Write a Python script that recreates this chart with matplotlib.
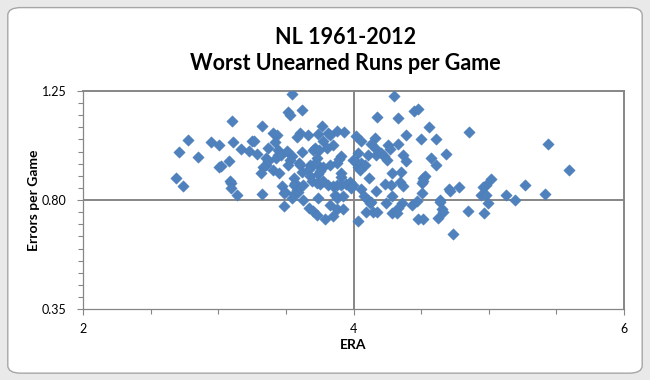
import matplotlib
matplotlib.use("Agg")
import matplotlib.pyplot as plt
from matplotlib.patches import FancyBboxPatch
from matplotlib.ticker import MultipleLocator

# ERA and errors per game
era = [2.778, 2.948, 3.003, 3.111, 3.170, 2.712, 2.852, 3.081, 3.020, 3.005,
       2.687, 2.741, 3.086, 3.096, 3.094, 3.140, 3.099,
       3.547, 3.513, 3.528, 3.619, 3.325, 3.407, 3.432, 3.604, 3.579, 3.247,
       3.264, 3.227, 3.284, 3.421, 3.370, 3.439, 3.444, 3.424, 3.463, 3.510,
       3.350, 3.365, 3.350, 3.333, 3.542, 3.530, 3.515, 3.616, 3.596, 3.604,
       3.407, 3.451, 3.316, 3.616, 3.562, 3.567, 3.559, 3.473, 3.493, 3.488,
       3.579, 3.591, 3.562, 3.628, 3.325, 3.628, 3.547, 3.483,
       3.764, 3.879, 3.929, 3.665, 3.739, 3.813, 3.825, 3.776, 3.850, 3.801,
       3.715, 3.702, 3.747, 3.731, 3.911, 3.894, 3.879, 3.677, 3.702, 3.739,
       3.776, 3.825, 3.665, 3.739, 3.751, 3.911, 3.911, 3.677, 3.690, 3.727,
       3.751, 3.776, 3.813, 3.850, 3.875, 3.911, 3.948, 3.973, 3.993, 3.985,
       3.862, 3.879, 3.924, 3.739, 3.672, 3.702, 3.727, 3.825, 3.875, 3.924,
       3.788, 3.850, 4.034,
       4.301, 4.175, 4.330, 4.387, 4.022, 4.054, 4.158, 4.133, 4.170, 4.252,
       4.269, 4.330, 4.030, 4.104, 4.170, 4.207, 4.227, 4.244, 4.367, 4.385,
       3.996, 4.021, 4.034, 4.058, 4.083, 4.046, 4.281, 4.350, 4.113, 4.232,
       4.276, 4.343, 4.367, 4.054, 4.170, 4.281, 4.079, 4.109, 4.133, 4.121,
       4.237, 4.355, 4.330, 4.429, 4.095, 4.145, 4.177, 4.281, 4.325,
       4.446, 4.478, 4.559, 4.498, 4.609, 4.855, 4.572, 4.609, 4.683, 4.528,
       4.511, 4.503, 4.515, 4.503, 4.471, 4.707, 4.712, 4.781, 4.638, 4.643,
       4.651, 4.663, 4.478, 4.511, 4.626, 4.732, 4.848,
       5.439, 5.592, 5.267, 5.015, 4.983, 4.959, 4.941, 4.983, 4.996, 5.131,
       5.193, 5.415, 4.966]

errors = [1.047, 1.039, 1.026, 1.039, 1.011, 0.998, 0.977, 0.961, 0.941, 0.936,
          0.891, 0.858, 0.879, 0.872, 0.848, 0.821, 1.126,
          1.236, 1.162, 1.151, 1.172, 1.105, 1.078, 1.069, 1.076, 1.058, 1.045,
          1.045, 1.003, 0.989, 1.039, 1.014, 1.006, 0.986, 0.975, 0.984, 1.004,
          0.975, 0.959, 0.945, 0.938, 0.980, 0.966, 0.943, 1.000, 0.954, 0.945,
          0.925, 0.911, 0.912, 0.914, 0.891, 0.870, 0.863, 0.856, 0.835, 0.829,
          0.842, 0.835, 0.825, 0.863, 0.825, 0.801, 0.808, 0.775,
          1.105, 1.083, 1.080, 1.066, 1.072, 1.076, 1.066, 1.044, 1.028, 1.014,
          1.014, 1.007, 1.007, 0.975, 0.980, 0.970, 0.954, 0.945, 0.943, 0.945,
          0.938, 0.943, 0.925, 0.907, 0.918, 0.911, 0.897, 0.901, 0.877, 0.870,
          0.866, 0.877, 0.863, 0.856, 0.863, 0.863, 0.866, 0.874, 0.863, 0.849,
          0.821, 0.808, 0.815, 0.808, 0.767, 0.753, 0.739, 0.780, 0.764, 0.764,
          0.722, 0.733, 0.712,
          1.227, 1.144, 1.138, 1.066, 1.062, 1.044, 1.055, 1.031, 1.011, 1.028,
          1.011, 1.031, 0.993, 0.986, 0.986, 0.993, 0.980, 0.966, 0.986, 0.959,
          0.966, 0.956, 0.938, 0.952, 0.945, 0.925, 0.911, 0.915, 0.891, 0.866,
          0.863, 0.874, 0.856, 0.847, 0.838, 0.815, 0.815, 0.801, 0.794, 0.788,
          0.786, 0.786, 0.767, 0.778, 0.750, 0.750, 0.750, 0.746, 0.746,
          1.168, 1.176, 1.103, 1.052, 1.052, 1.080, 0.975, 0.945, 0.989, 0.901,
          0.891, 0.872, 0.877, 0.829, 0.797, 0.847, 0.838, 0.855, 0.801, 0.794,
          0.764, 0.750, 0.723, 0.720, 0.726, 0.660, 0.756,
          1.031, 0.924, 0.863, 0.888, 0.863, 0.852, 0.821, 0.821, 0.788, 0.821,
          0.800, 0.825, 0.748]

x_ticks = [2, 4, 6]
y_ticks = [0.35, 0.80, 1.25]

plt.rcParams['font.family'] = ['Lato', 'DejaVu Sans']

fig = plt.figure(figsize=(6.5, 3.8), dpi=100)
fig.patch.set_facecolor('#E9E9E9')

# chart area frame (Excel style rounded box), kept behind the axes
frame = FancyBboxPatch((0.012, 0.018), 0.976, 0.962,
                       boxstyle="round,pad=0,rounding_size=0.02",
                       transform=fig.transFigure, facecolor='white',
                       edgecolor='#A6A6A6', linewidth=1.0, zorder=-10)
fig.patches.append(frame)

ax = fig.add_axes([0.1277, 0.186, 0.8323, 0.575])
ax.set_facecolor('white')

grid_col = '#868686'

# gridlines at the major units
ax.axhline(0.80, color=grid_col, linewidth=1.4, zorder=1)
ax.axvline(4, color=grid_col, linewidth=1.4, zorder=1)

ax.scatter(era, errors, marker='D', s=34, color='#4F81BD',
           edgecolors='#4A7EBB', linewidths=0.3, zorder=3)

ax.set_xlim(2, 6)
ax.set_ylim(0.35, 1.25)
ax.set_xticks(x_ticks)
ax.set_yticks(y_ticks)
ax.set_xticklabels([str(t) for t in x_ticks])
ax.set_yticklabels([f"{t:.2f}" for t in y_ticks])
ax.xaxis.set_minor_locator(MultipleLocator(0.5))
ax.yaxis.set_minor_locator(MultipleLocator(0.05))

ax.tick_params(which='both', direction='out', color=grid_col, width=0.8)
ax.tick_params(which='major', length=4, labelsize=9, pad=6)
ax.tick_params(which='minor', length=3.5)
ax.tick_params(axis='y', which='major', pad=8)

for side in ['left', 'bottom']:
    ax.spines[side].set_color(grid_col)
    ax.spines[side].set_linewidth(0.9)
for side in ['top', 'right']:
    ax.spines[side].set_color(grid_col)
    ax.spines[side].set_linewidth(1.4)

ax.set_xlabel("ERA", fontsize=10, fontweight='bold', labelpad=3)
ax.set_ylabel("Errors per Game", fontsize=10, fontweight='bold', labelpad=1)

fig.text(0.532, 0.9, "NL 1961-2012", ha='center', va='center',
         fontsize=15.5, fontweight='bold')
fig.text(0.532, 0.834, "Worst Unearned Runs per Game", ha='center', va='center',
         fontsize=15.5, fontweight='bold')

fig.savefig("out.png", dpi=100, facecolor=fig.get_facecolor())
